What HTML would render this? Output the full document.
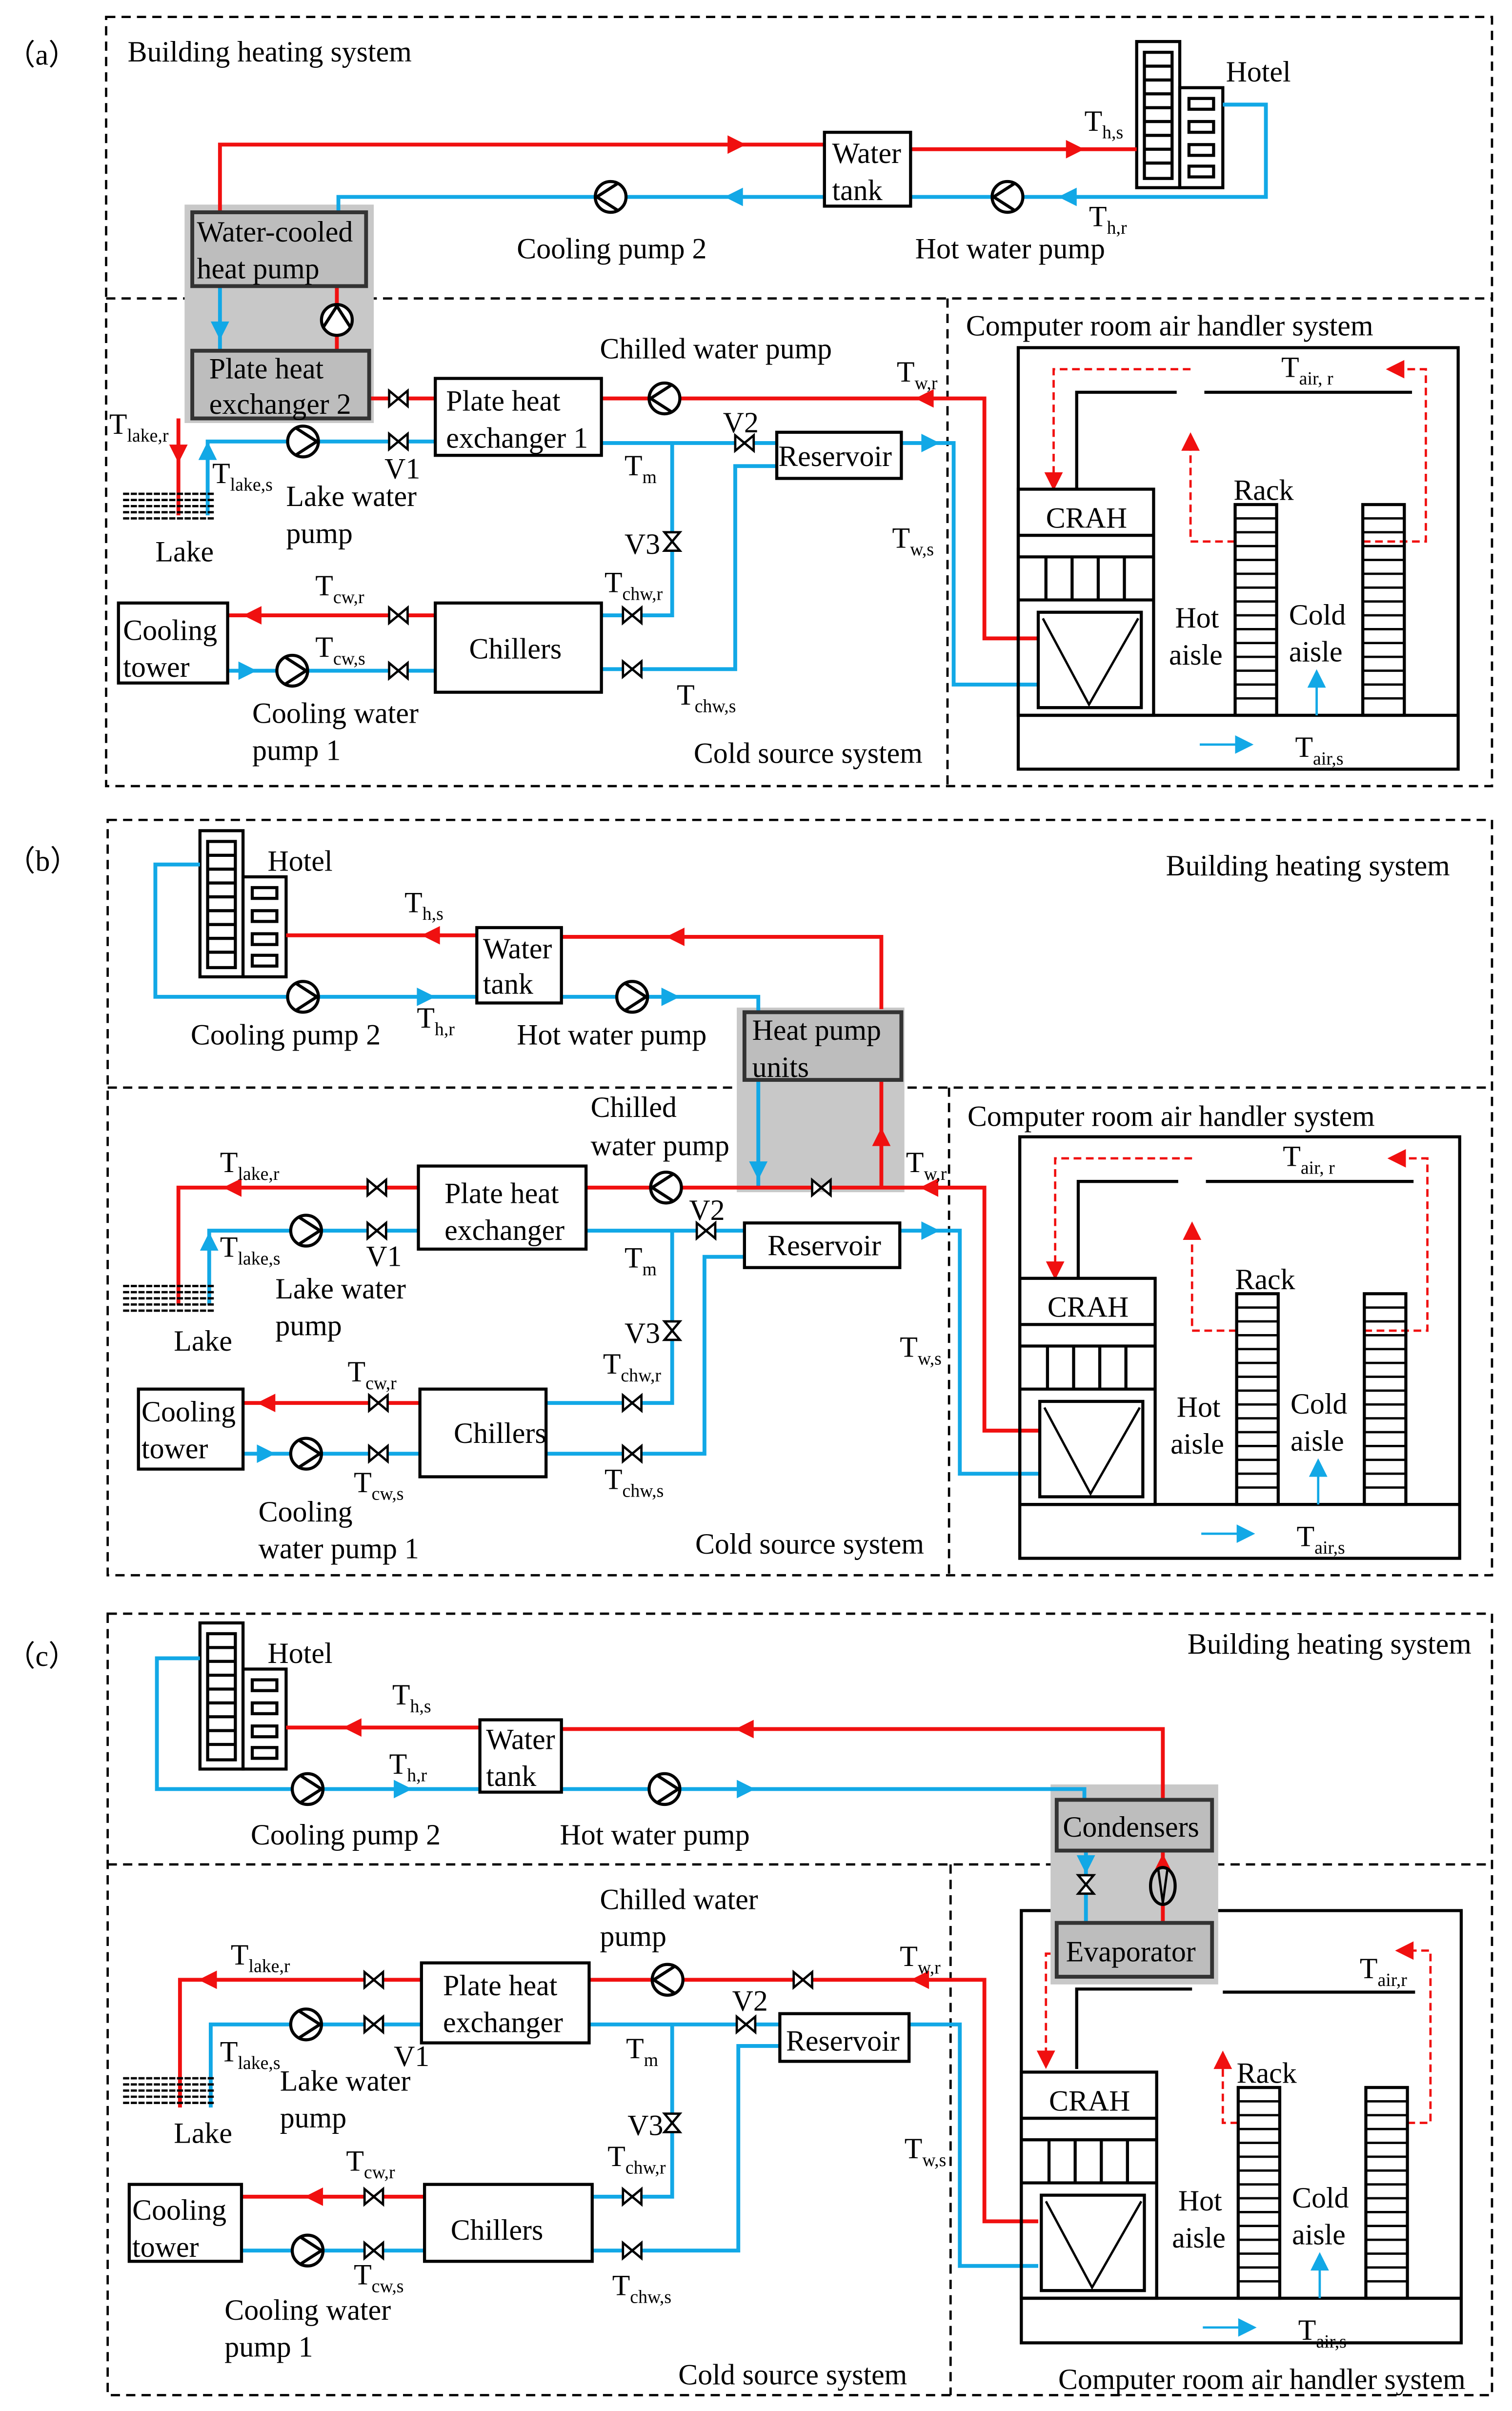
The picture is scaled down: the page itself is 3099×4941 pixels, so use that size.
<!DOCTYPE html>
<html><head><meta charset="utf-8"><style>
html,body{margin:0;padding:0;background:#fff}
svg{display:block}
text{font-family:"Liberation Serif",serif;font-size:19px;fill:#000}
.s{font-size:12px}
</style></head><body>
<svg width="3099" height="4941" viewBox="0 0 983 1567.3" xmlns="http://www.w3.org/2000/svg">
<defs>
<polygon id="a" points="-7,-6 5,0 -7,6"/>
<g id="p"><circle r="10" fill="#fff" stroke="#000" stroke-width="2"/><path d="M-5,-9 L9,0 L-5,9" fill="none" stroke="#000" stroke-width="2"/></g>
<path id="v" d="M-6,-5 L6,5 L6,-5 L-6,5 Z" fill="#fff" stroke="#000" stroke-width="1.5"/>
<g id="hotel" fill="none" stroke="#000" stroke-width="2">
<rect x="739" y="27" width="28" height="95" fill="#fff"/>
<rect x="744" y="34" width="18" height="82"/>
<path d="M744,43H762M744,52H762M744,61H762M744,70H762M744,79H762M744,88H762M744,97H762M744,106H762"/>
<rect x="767" y="57" width="28" height="65" fill="#fff"/>
<rect x="773" y="64" width="16" height="7"/><rect x="773" y="79" width="16" height="7"/><rect x="773" y="94" width="16" height="7"/><rect x="773" y="108" width="16" height="7"/>
</g>
<g id="crah">
<line x1="662" y1="465" x2="948" y2="465" stroke="#000" stroke-width="2"/>
<rect x="662" y="318" width="88" height="147" fill="none" stroke="#000" stroke-width="2"/>
<path d="M662,348H750M662,362H750M662,390H750M680,362V390M697,362V390M714,362V390M731,362V390" stroke="#000" stroke-width="2"/>
<rect x="675" y="398" width="67" height="62" fill="none" stroke="#000" stroke-width="2"/>
<path d="M678,402 L708,458 L740,402" fill="none" stroke="#000" stroke-width="1.5"/>
<rect x="803" y="328" width="27" height="137" fill="none" stroke="#000" stroke-width="2"/>
<rect x="886" y="328" width="27" height="137" fill="none" stroke="#000" stroke-width="2"/>
<path d="M803,337H830M803,346H830M803,355H830M803,364H830M803,373H830M803,382H830M803,391H830M803,400H830M803,409H830M803,418H830M803,427H830M803,436H830M803,445H830M803,454H830M886,337H913M886,346H913M886,355H913M886,364H913M886,373H913M886,382H913M886,391H913M886,400H913M886,409H913M886,418H913M886,427H913M886,436H913M886,445H913M886,454H913" stroke="#000" stroke-width="1.5"/>
<text x="680" y="343">CRAH</text>
<text x="802" y="325">Rack</text>
<text x="764" y="408">Hot</text><text x="760" y="432">aisle</text>
<text x="838" y="406">Cold</text><text x="838" y="430">aisle</text>
<line x1="780" y1="484" x2="806" y2="484" stroke="#12a8e6" stroke-width="1.5"/>
<use href="#a" x="0" y="0" transform="translate(810,484)" fill="#12a8e6"/>
<line x1="856" y1="465" x2="856" y2="444" stroke="#12a8e6" stroke-width="1.5"/>
<use href="#a" transform="translate(856,440) rotate(-90)" fill="#12a8e6"/>
<text x="842" y="492">T<tspan class="s" dy="5">air,s</tspan></text>
</g>
<g id="crahtop">
<rect x="662" y="226" width="286" height="274" fill="none" stroke="#000" stroke-width="2"/>
<polyline points="700,318 700,255 765,255" fill="none" stroke="#000" stroke-width="2"/>
<line x1="783" y1="255" x2="918" y2="255" stroke="#000" stroke-width="2"/>
<g fill="none" stroke="#f01010" stroke-width="1.5" stroke-dasharray="5,3">
<polyline points="774,240 685,240 685,310"/>
<polyline points="803,352 774,352 774,290"/>
<polyline points="886,352 927,352 927,240 910,240"/>
</g>
<use href="#a" transform="translate(685,314) rotate(90)" fill="#f01010"/>
<use href="#a" transform="translate(774,286) rotate(-90)" fill="#f01010"/>
<use href="#a" transform="translate(906,240) rotate(180)" fill="#f01010"/>
<text x="833" y="245">T<tspan class="s" dy="5">air, r</tspan></text>
</g>
<g id="lake" stroke="#000" stroke-width="1.5" stroke-dasharray="4,1">
<path d="M80,0H140M80,4H140M80,8H140M80,12H140M80,16H140"/>
</g>
</defs>

<!-- ============ PANEL A ============ -->
<g fill="none" stroke="#000" stroke-width="1.5" stroke-dasharray="6,4">
<rect x="69" y="11" width="901" height="500"/>
<line x1="69" y1="194" x2="970" y2="194"/>
<line x1="616" y1="194" x2="616" y2="511"/>
</g>
<text x="4" y="42">（a）</text>
<text x="83" y="40">Building heating system</text>
<use href="#hotel"/>
<text x="797" y="53">Hotel</text>
<rect x="120" y="133" width="123" height="142" fill="#c8c8c8"/>
<g fill="none" stroke-width="2.5">
<polyline points="143,138 143,94 536,94" stroke="#f01010"/>
<line x1="592" y1="97" x2="739" y2="97" stroke="#f01010"/>
<polyline points="795,68 823,68 823,128 592,128" stroke="#12a8e6"/>
<polyline points="536,128 220,128 220,138" stroke="#12a8e6"/>
<line x1="143" y1="186" x2="143" y2="228" stroke="#12a8e6"/>
<line x1="219" y1="186" x2="219" y2="228" stroke="#f01010"/>
<line x1="116" y1="272" x2="116" y2="335" stroke="#f01010"/>
<polyline points="135,335 135,287 283,287" stroke="#12a8e6"/>
<line x1="240" y1="259" x2="283" y2="259" stroke="#f01010"/>
<polyline points="391,259 640,259 640,415 675,415" stroke="#f01010"/>
<line x1="391" y1="288" x2="505" y2="288" stroke="#12a8e6"/>
<polyline points="586,288 620,288 620,445 675,445" stroke="#12a8e6"/>
<polyline points="437,288 437,400 391,400" stroke="#12a8e6"/>
<polyline points="505,303 478,303 478,435 391,435" stroke="#12a8e6"/>
<line x1="283" y1="400" x2="148" y2="400" stroke="#f01010"/>
<line x1="148" y1="436" x2="283" y2="436" stroke="#12a8e6"/>
</g>
<rect x="125" y="138" width="113" height="48" fill="#bdbdbd" stroke="#333" stroke-width="2.5"/>
<text x="128" y="157" fill="#333">Water-cooled</text><text x="128" y="181" fill="#333">heat pump</text>
<rect x="125" y="228" width="115" height="44" fill="#bdbdbd" stroke="#333" stroke-width="2.5"/>
<text x="136" y="246" fill="#333">Plate heat</text><text x="136" y="269" fill="#333">exchanger 2</text>
<rect x="536" y="86" width="56" height="48" fill="#fff" stroke="#000" stroke-width="2"/>
<text x="541" y="106">Water</text><text x="541" y="130">tank</text>
<rect x="283" y="246" width="108" height="50" fill="#fff" stroke="#000" stroke-width="2"/>
<text x="290" y="267">Plate heat</text><text x="290" y="291">exchanger 1</text>
<rect x="505" y="281" width="81" height="30" fill="#fff" stroke="#000" stroke-width="2"/>
<text x="506" y="303">Reservoir</text>
<rect x="283" y="392" width="108" height="58" fill="#fff" stroke="#000" stroke-width="2"/>
<text x="305" y="428">Chillers</text>
<rect x="77" y="392" width="71" height="52" fill="#fff" stroke="#000" stroke-width="2"/>
<text x="80" y="416">Cooling</text><text x="80" y="440">tower</text>
<use href="#lake" transform="translate(0,321)"/>
<use href="#a" transform="translate(480,94)" fill="#f01010"/>
<use href="#a" transform="translate(700,97)" fill="#f01010"/>
<use href="#a" transform="translate(693,128) rotate(180)" fill="#12a8e6"/>
<use href="#a" transform="translate(476,128) rotate(180)" fill="#12a8e6"/>
<use href="#a" transform="translate(143,216) rotate(90)" fill="#12a8e6"/>
<use href="#a" transform="translate(116,296) rotate(90)" fill="#f01010"/>
<use href="#a" transform="translate(135,292) rotate(-90)" fill="#12a8e6"/>
<use href="#a" transform="translate(600,259) rotate(180)" fill="#f01010"/>
<use href="#a" transform="translate(606,288)" fill="#12a8e6"/>
<use href="#a" transform="translate(163,400) rotate(180)" fill="#f01010"/>
<use href="#a" transform="translate(162,436)" fill="#12a8e6"/>
<use href="#p" transform="translate(397,128) rotate(180)"/>
<use href="#p" transform="translate(655,128) rotate(180)"/>
<use href="#p" transform="translate(219,208) rotate(-90)"/>
<use href="#p" transform="translate(197,287)"/>
<use href="#p" transform="translate(432,259) rotate(180)"/>
<use href="#p" transform="translate(190,436)"/>
<use href="#v" transform="translate(259,259)"/>
<use href="#v" transform="translate(259,287)"/>
<use href="#v" transform="translate(484,288)"/>
<use href="#v" transform="translate(437,352) rotate(90)"/>
<use href="#v" transform="translate(411,400)"/>
<use href="#v" transform="translate(411,435)"/>
<use href="#v" transform="translate(259,400)"/>
<use href="#v" transform="translate(259,436)"/>
<text x="705" y="85">T<tspan class="s" dy="5">h,s</tspan></text>
<text x="708" y="147">T<tspan class="s" dy="5">h,r</tspan></text>
<text x="336" y="168">Cooling pump 2</text>
<text x="595" y="168">Hot water pump</text>
<text x="390" y="233">Chilled water pump</text>
<text x="583" y="248">T<tspan class="s" dy="5">w,r</tspan></text>
<text x="71" y="282">T<tspan class="s" dy="5">lake,r</tspan></text>
<text x="138" y="314">T<tspan class="s" dy="5">lake,s</tspan></text>
<text x="250" y="311">V1</text>
<text x="470" y="281">V2</text>
<text x="186" y="329">Lake water</text><text x="186" y="353">pump</text>
<text x="101" y="365">Lake</text>
<text x="406" y="309">T<tspan class="s" dy="5">m</tspan></text>
<text x="406" y="360">V3</text>
<text x="580" y="356">T<tspan class="s" dy="5">w,s</tspan></text>
<text x="393" y="385">T<tspan class="s" dy="5">chw,r</tspan></text>
<text x="440" y="458">T<tspan class="s" dy="5">chw,s</tspan></text>
<text x="205" y="387">T<tspan class="s" dy="5">cw,r</tspan></text>
<text x="205" y="427">T<tspan class="s" dy="5">cw,s</tspan></text>
<text x="164" y="470">Cooling water</text><text x="164" y="494">pump 1</text>
<text x="451" y="496">Cold source system</text>
<text x="628" y="218">Computer room air handler system</text>
<use href="#crahtop"/><use href="#crah"/>

<!-- ============ PANEL B ============ -->
<g fill="none" stroke="#000" stroke-width="1.5" stroke-dasharray="6,4">
<rect x="70" y="533" width="900" height="491"/>
<line x1="70" y1="707" x2="970" y2="707"/>
<line x1="617" y1="707" x2="617" y2="1024"/>
</g>
<text x="4" y="566">（b）</text>
<text x="758" y="569">Building heating system</text>
<use href="#hotel" transform="translate(-609,513)"/>
<text x="174" y="566">Hotel</text>
<rect x="479" y="655" width="109" height="120" fill="#c8c8c8"/>
<g fill="none" stroke-width="2.5">
<polyline points="130,562 101,562 101,648 310,648" stroke="#12a8e6"/>
<polyline points="365,648 493,648 493,660" stroke="#12a8e6"/>
<polyline points="573,656 573,609 365,609" stroke="#f01010"/>
<line x1="310" y1="608" x2="186" y2="608" stroke="#f01010"/>
<line x1="493" y1="702" x2="493" y2="772" stroke="#12a8e6"/>
<line x1="573" y1="772" x2="573" y2="702" stroke="#f01010"/>
<polyline points="381,772 640,772 640,930 675,930" stroke="#f01010"/>
<polyline points="116,848 116,772 272,772" stroke="#f01010"/>
<polyline points="136,848 136,800 272,800" stroke="#12a8e6"/>
<line x1="381" y1="800" x2="484" y2="800" stroke="#12a8e6"/>
<polyline points="585,800 624,800 624,958 675,958" stroke="#12a8e6"/>
<polyline points="437,800 437,912 355,912" stroke="#12a8e6"/>
<polyline points="484,817 458,817 458,945 355,945" stroke="#12a8e6"/>
<line x1="273" y1="912" x2="158" y2="912" stroke="#f01010"/>
<line x1="158" y1="945" x2="273" y2="945" stroke="#12a8e6"/>
</g>
<rect x="484" y="658" width="102" height="44" fill="#bdbdbd" stroke="#333" stroke-width="2.5"/>
<text x="489" y="676" fill="#333">Heat pump</text><text x="489" y="700" fill="#333">units</text>
<rect x="310" y="603" width="55" height="49" fill="#fff" stroke="#000" stroke-width="2"/>
<text x="314" y="623">Water</text><text x="314" y="646">tank</text>
<rect x="272" y="758" width="109" height="54" fill="#fff" stroke="#000" stroke-width="2"/>
<text x="289" y="782">Plate heat</text><text x="289" y="806">exchanger</text>
<rect x="484" y="795" width="101" height="29" fill="#fff" stroke="#000" stroke-width="2"/>
<text x="499" y="816">Reservoir</text>
<rect x="273" y="903" width="82" height="57" fill="#fff" stroke="#000" stroke-width="2"/>
<text x="295" y="938">Chillers</text>
<rect x="90" y="903" width="68" height="52" fill="#fff" stroke="#000" stroke-width="2"/>
<text x="92" y="924">Cooling</text><text x="92" y="948">tower</text>
<use href="#lake" transform="translate(0,836)"/>
<use href="#a" transform="translate(278,648)" fill="#12a8e6"/>
<use href="#a" transform="translate(437,648)" fill="#12a8e6"/>
<use href="#a" transform="translate(438,609) rotate(180)" fill="#f01010"/>
<use href="#a" transform="translate(279,608) rotate(180)" fill="#f01010"/>
<use href="#a" transform="translate(493,762) rotate(90)" fill="#12a8e6"/>
<use href="#a" transform="translate(573,738) rotate(-90)" fill="#f01010"/>
<use href="#a" transform="translate(603,772) rotate(180)" fill="#f01010"/>
<use href="#a" transform="translate(150,772) rotate(180)" fill="#f01010"/>
<use href="#a" transform="translate(136,806) rotate(-90)" fill="#12a8e6"/>
<use href="#a" transform="translate(606,800)" fill="#12a8e6"/>
<use href="#a" transform="translate(172,912) rotate(180)" fill="#f01010"/>
<use href="#a" transform="translate(174,945)" fill="#12a8e6"/>
<use href="#p" transform="translate(197,648)"/>
<use href="#p" transform="translate(411,648)"/>
<use href="#p" transform="translate(433,772) rotate(180)"/>
<use href="#p" transform="translate(199,800)"/>
<use href="#p" transform="translate(199,945)"/>
<use href="#v" transform="translate(534,772)"/>
<use href="#v" transform="translate(245,772)"/>
<use href="#v" transform="translate(245,800)"/>
<use href="#v" transform="translate(459,800)"/>
<use href="#v" transform="translate(437,865) rotate(90)"/>
<use href="#v" transform="translate(411,912)"/>
<use href="#v" transform="translate(411,945)"/>
<use href="#v" transform="translate(246,912)"/>
<use href="#v" transform="translate(246,945)"/>
<text x="263" y="593">T<tspan class="s" dy="5">h,s</tspan></text>
<text x="271" y="668">T<tspan class="s" dy="5">h,r</tspan></text>
<text x="124" y="679">Cooling pump 2</text>
<text x="336" y="679">Hot water pump</text>
<text x="384" y="726">Chilled</text><text x="384" y="751">water pump</text>
<text x="589" y="762">T<tspan class="s" dy="5">w,r</tspan></text>
<text x="143" y="762">T<tspan class="s" dy="5">lake,r</tspan></text>
<text x="143" y="817">T<tspan class="s" dy="5">lake,s</tspan></text>
<text x="238" y="823">V1</text>
<text x="448" y="793">V2</text>
<text x="179" y="844">Lake water</text><text x="179" y="868">pump</text>
<text x="113" y="878">Lake</text>
<text x="406" y="824">T<tspan class="s" dy="5">m</tspan></text>
<text x="406" y="873">V3</text>
<text x="585" y="882">T<tspan class="s" dy="5">w,s</tspan></text>
<text x="392" y="893">T<tspan class="s" dy="5">chw,r</tspan></text>
<text x="393" y="968">T<tspan class="s" dy="5">chw,s</tspan></text>
<text x="226" y="898">T<tspan class="s" dy="5">cw,r</tspan></text>
<text x="230" y="970">T<tspan class="s" dy="5">cw,s</tspan></text>
<text x="168" y="989">Cooling</text><text x="168" y="1013">water pump 1</text>
<text x="452" y="1010">Cold source system</text>
<text x="629" y="732">Computer room air handler system</text>
<g transform="translate(1,513)"><use href="#crahtop"/><use href="#crah"/></g>

<!-- ============ PANEL C ============ -->
<g fill="none" stroke="#000" stroke-width="1.5" stroke-dasharray="6,4">
<rect x="70" y="1049" width="900" height="508"/>
<line x1="70" y1="1212" x2="970" y2="1212"/>
<line x1="618" y1="1212" x2="618" y2="1557"/>
</g>
<text x="4" y="1083">（c）</text>
<text x="772" y="1075">Building heating system</text>
<use href="#hotel" transform="translate(-609,1028)"/>
<text x="174" y="1081">Hotel</text>
<rect x="664" y="1242" width="286" height="281" fill="none" stroke="#000" stroke-width="2"/>
<polyline points="700,1345 700,1293 775,1293" fill="none" stroke="#000" stroke-width="2"/>
<line x1="795" y1="1295" x2="920" y2="1295" stroke="#000" stroke-width="2"/>
<rect x="683" y="1160" width="109" height="130" fill="#c8c8c8"/>
<g fill="none" stroke-width="2.5">
<polyline points="756,1170 756,1124 365,1124" stroke="#f01010"/>
<line x1="312" y1="1123" x2="186" y2="1123" stroke="#f01010"/>
<polyline points="130,1078 102,1078 102,1163 312,1163" stroke="#12a8e6"/>
<polyline points="365,1163 705,1163 705,1170" stroke="#12a8e6"/>
<line x1="706" y1="1203" x2="706" y2="1250" stroke="#12a8e6"/>
<line x1="756" y1="1203" x2="756" y2="1250" stroke="#f01010"/>
<polyline points="383,1287 640,1287 640,1444 675,1444" stroke="#f01010"/>
<polyline points="117,1370 117,1287 274,1287" stroke="#f01010"/>
<polyline points="137,1370 137,1316 274,1316" stroke="#12a8e6"/>
<line x1="383" y1="1316" x2="507" y2="1316" stroke="#12a8e6"/>
<polyline points="591,1316 624,1316 624,1473 675,1473" stroke="#12a8e6"/>
<polyline points="437,1316 437,1428 385,1428" stroke="#12a8e6"/>
<polyline points="507,1330 480,1330 480,1463 385,1463" stroke="#12a8e6"/>
<line x1="276" y1="1428" x2="157" y2="1428" stroke="#f01010"/>
<line x1="157" y1="1463" x2="276" y2="1463" stroke="#12a8e6"/>
</g>
<rect x="687" y="1170" width="101" height="33" fill="#bdbdbd" stroke="#333" stroke-width="2.5"/>
<text x="691" y="1194" fill="#333">Condensers</text>
<rect x="687" y="1250" width="101" height="35" fill="#bdbdbd" stroke="#333" stroke-width="2.5"/>
<text x="693" y="1275" fill="#333">Evaporator</text>
<rect x="312" y="1118" width="53" height="47" fill="#fff" stroke="#000" stroke-width="2"/>
<text x="316" y="1137">Water</text><text x="316" y="1161">tank</text>
<rect x="274" y="1276" width="109" height="52" fill="#fff" stroke="#000" stroke-width="2"/>
<text x="288" y="1297">Plate heat</text><text x="288" y="1321">exchanger</text>
<rect x="507" y="1309" width="84" height="31" fill="#fff" stroke="#000" stroke-width="2"/>
<text x="511" y="1333">Reservoir</text>
<rect x="276" y="1420" width="109" height="50" fill="#fff" stroke="#000" stroke-width="2"/>
<text x="293" y="1456">Chillers</text>
<rect x="84" y="1420" width="73" height="50" fill="#fff" stroke="#000" stroke-width="2"/>
<text x="86" y="1443">Cooling</text><text x="86" y="1467">tower</text>
<use href="#lake" transform="translate(0,1351)"/>
<use href="#a" transform="translate(483,1124) rotate(180)" fill="#f01010"/>
<use href="#a" transform="translate(228,1123) rotate(180)" fill="#f01010"/>
<use href="#a" transform="translate(263,1163)" fill="#12a8e6"/>
<use href="#a" transform="translate(486,1163)" fill="#12a8e6"/>
<use href="#a" transform="translate(706,1213) rotate(90)" fill="#12a8e6"/>
<use href="#a" transform="translate(756,1210) rotate(-90)" fill="#f01010"/>
<use href="#a" transform="translate(597,1287) rotate(180)" fill="#f01010"/>
<use href="#a" transform="translate(134,1287) rotate(180)" fill="#f01010"/>
<use href="#a" transform="translate(203,1428) rotate(180)" fill="#f01010"/>
<use href="#p" transform="translate(200,1163)"/>
<use href="#p" transform="translate(432,1163)"/>
<g transform="translate(756,1226)"><ellipse rx="8" ry="12" fill="#c8c8c8" stroke="#000" stroke-width="2"/><path d="M-3,-11 L0,11 L3,-11" fill="none" stroke="#000" stroke-width="1.5"/></g>
<use href="#v" transform="translate(706,1225) rotate(90)"/>
<use href="#p" transform="translate(434,1287) rotate(180)"/>
<use href="#p" transform="translate(199,1316)"/>
<use href="#p" transform="translate(200,1463)"/>
<use href="#v" transform="translate(522,1287)"/>
<use href="#v" transform="translate(243,1287)"/>
<use href="#v" transform="translate(243,1316)"/>
<use href="#v" transform="translate(485,1316)"/>
<use href="#v" transform="translate(437,1380) rotate(90)"/>
<use href="#v" transform="translate(411,1428)"/>
<use href="#v" transform="translate(411,1463)"/>
<use href="#v" transform="translate(243,1428)"/>
<use href="#v" transform="translate(243,1463)"/>
<g fill="none" stroke="#f01010" stroke-width="1.5" stroke-dasharray="5,3">
<polyline points="683,1270 680,1270 680,1336"/>
<polyline points="805,1380 795,1380 795,1342"/>
<polyline points="915,1380 930,1380 930,1268 916,1268"/>
</g>
<use href="#a" transform="translate(680,1340) rotate(90)" fill="#f01010"/>
<use href="#a" transform="translate(795,1338) rotate(-90)" fill="#f01010"/>
<use href="#a" transform="translate(912,1268) rotate(180)" fill="#f01010"/>
<text x="884" y="1286">T<tspan class="s" dy="5">air,r</tspan></text>
<g transform="translate(2,1029)"><use href="#crah"/></g>
<text x="255" y="1108">T<tspan class="s" dy="5">h,s</tspan></text>
<text x="253" y="1153">T<tspan class="s" dy="5">h,r</tspan></text>
<text x="163" y="1199">Cooling pump 2</text>
<text x="364" y="1199">Hot water pump</text>
<text x="390" y="1241">Chilled water</text><text x="390" y="1265">pump</text>
<text x="585" y="1278">T<tspan class="s" dy="5">w,r</tspan></text>
<text x="150" y="1277">T<tspan class="s" dy="5">lake,r</tspan></text>
<text x="143" y="1340">T<tspan class="s" dy="5">lake,s</tspan></text>
<text x="256" y="1343">V1</text>
<text x="476" y="1307">V2</text>
<text x="182" y="1359">Lake water</text><text x="182" y="1383">pump</text>
<text x="113" y="1393">Lake</text>
<text x="407" y="1338">T<tspan class="s" dy="5">m</tspan></text>
<text x="408" y="1388">V3</text>
<text x="588" y="1403">T<tspan class="s" dy="5">w,s</tspan></text>
<text x="395" y="1408">T<tspan class="s" dy="5">chw,r</tspan></text>
<text x="398" y="1492">T<tspan class="s" dy="5">chw,s</tspan></text>
<text x="225" y="1411">T<tspan class="s" dy="5">cw,r</tspan></text>
<text x="230" y="1485">T<tspan class="s" dy="5">cw,s</tspan></text>
<text x="146" y="1508">Cooling water</text><text x="146" y="1532">pump 1</text>
<text x="441" y="1550">Cold source system</text>
<text x="688" y="1553">Computer room air handler system</text>
</svg>
</body></html>
